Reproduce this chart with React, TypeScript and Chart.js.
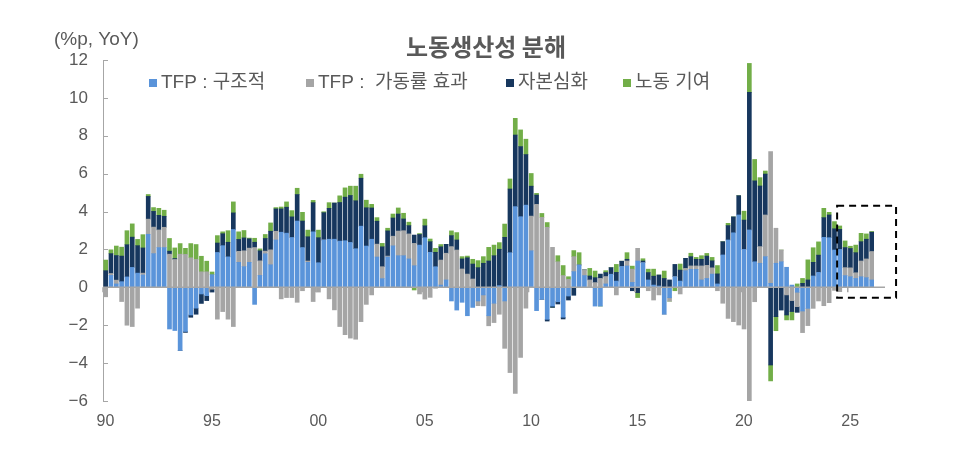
import React, { useEffect, useRef } from "react";
import { Chart, registerables } from "chart.js";

Chart.register(...registerables);

// ---------- data (quarterly, 1990Q1 .. 2026Q1, %p YoY) ----------
const START_YEAR = 1990;

const TFP_STRUCTURAL = [
  0, 0.63, 0.18, 0.3, 0.55, 1.05, 0.75, 0.65, 2.8, 1.78, 2.1, 2.1,
  -2.2, -2.28, -3.33, -2.33, -1.46, -1.1, -0.35, -0.44, 0.67, 1.84, 2.2, 1.61,
  3.05, 1.32, 1.09, 1.32, -0.9, 0.63, 1.77, 1.19, 2.5, 2.91, 2.86, 2.63,
  3.5, 2.1, 1.32, 2.93, 1.3, 2.5, 2.54, 2.54, 2.44, 2.46, 2.37, 2.04,
  3.23, 2.18, 2.54, 1.6, 0.46, 1.6, 2.19, 1.67, 1.67, 1.5, 1.14, 2.23,
  2.62, 1.85, 1.09, 0.12, 0.39, -0.72, -1.2, -0.79, -1.5, -1.06, -0.72, -0.4,
  -1.5, -0.84, 0.09, -0.72, 1.83, 4.26, 3.73, 4.34, 1.93, -1.23, -0.63, -1.69,
  -0.99, -0.76, -1.58, -0.46, 0.83, 1.18, 0.62, 0, -0.99, -0.99, 0.18, 0.69,
  0.33, 1.1, 1.13, 0.26, 1.39, 1.3, 0.39, 0.12, 0.07, -1.42, -0.55, 0.56,
  0.33, 0.88, 0.95, 0.95, 0.39, 0.47, 0.7, 0.18, 1.71, 2.5, 2.88, 3.82,
  2.0, 3.03, 1.35, 1.27, 1.62, 0.21, 1.27, 1.35, 1.06, 0.12, -0.26, -1.25,
  -1.11, 0.6, 0.79, 2.64, 2.62, 1.97, 2.0, 0.62, 0.56, 0.47, 0.56, 0.51,
  0.39,
];

const TFP_CYCLICAL = [
  -0.5, 0.1, 0.2, -0.75, -2.0, -2.07, -1.1, 0.1, 0.8, 1.4, 0.93, 1.07,
  1.75, 1.47, 1.75, 1.74, 1.56, 1.47, 0.82, 0.82, -0.1, -1.68, -1.28, -1.68,
  -2.07, 0.58, 0.84, 0.75, 2.1, 0.77, 0.14, 0.79, 0.46, -0.61, -0.54, -0.54,
  -0.79, -0.18, 0.07, -0.75, -0.25, 0, -0.61, -1.19, -2.07, -2.5, -2.68, -2.74,
  -1.81, -0.9, -0.4, 0.68, 0.63, 0.05, 0.51, 1.3, 1.32, 1.32, 1.18, -0.35,
  -0.62, -0.53, -0.05, 1.32, 1.41, 2.15, 1.97, 0.97, 0.7, 0.44, -0.25, -0.58,
  -0.53, -1.02, -1.42, -2.5, -4.5, -5.6, -3.7, -1.1, 1.83, 4.38, 3.69, 3.17,
  2.11, 1.35, 0.62, 0.42, 0.79, 0, 0.3, 0.39, 0.25, 0.47, 0.39, 0,
  -0.4, 0, 0.26, 0.7, 0.67, 0, -0.18, -0.67, -0.4, 0, -0.18, 0,
  -0.35, 0.12, 0.18, 0.18, 0.74, 0.69, 0.33, -0.18, -0.84, -1.64, -1.81, -1.99,
  -2.2, -6.12, -0.76, 0.88, 2.2, 6.95, 1.85, 0.62, -0.4, -0.7, -0.76, -1.14,
  -0.91, -1.11, -0.72, -0.97, -0.81, -0.16, -0.23, 0.42, 0.47, 0.3, 0.83, 0.99,
  1.5,
];

const CAPITAL_DEEPENING = [
  0.88, 1.05, 1.3, 1.35, 1.7, 1.6, 1.45, 1.33, 1.2, 0.83, 0.77, 0.58,
  0.16, 0.05, 0, -0.05, -0.12, -0.32, -0.5, -0.26, -0.15, 0.5, 0.63, 0.77,
  0.88, 0.63, 0.68, 0.49, 0.28, 0.53, 0.67, 0.98, 1.18, 1.23, 1.37, 1.09,
  1.4, 1.4, 1.28, 1.54, 1.32, 1.44, 1.63, 1.91, 2.04, 2.3, 2.48, 2.53,
  2.53, 2.02, 1.65, 1.21, 1.05, 1.33, 0.96, 0.9, 0.62, 0.44, 0.44, 0.56,
  0.63, 0.56, 0.76, 0.7, 0.47, 0.58, 0.53, 0.53, 0.86, 0.79, 1.04, 1.27,
  1.39, 1.67, 1.92, 2.64, 3.36, 3.78, 3.7, 2.67, 1.58, 0.49, 0, -0.09,
  -0.07, -0.12, -0.09, -0.21, -0.42, 0, 0, 0.21, 0.26, 0.23, 0.21, 0.35,
  0.46, 0.28, 0.09, -0.18, -0.28, 0.09, 0.39, 0.47, 0.58, 0.47, 0.39, 0.65,
  0.58, 0.53, 0.49, 0.35, 0.35, 0.49, 0.37, 0.53, 0.7, 0.76, 0.84, 1.02,
  1.55, 7.26, 4.27, 3.2, 2.16, -4.1, -1.55, -1.2, -1.06, -0.58, -0.3, 0.21,
  0.39, 0.72, 0.91, 1.04, 1.2, 1.12, 1.06, 1.06, 1.02, 1.06, 1.02, 1.04,
  1.02,
];

const LABOR_CONTRIBUTION = [
  0.56, 0.2, 0.5, 0.47, 0.74, 0.7, 0.33, 0.7, 0.1, 0.2, 0.37, 0.32,
  0.67, 0.56, 0.56, 0.32, 0.75, 0.79, 0.82, 0.56, 0.14, 0.39, 0.1, 0.61,
  0.58, 0.4, 0.39, 0.04, 0.21, 0.1, 0.21, 0.44, 0.07, 0.1, 0.28, 0.33,
  0.33, 0.46, 0.35, 0.12, 0.4, 0.05, 0.3, 0, 0.35, 0.49, 0.49, 0.77,
  0.21, 0.4, 0.19, 0.19, 0.18, 0.14, 0.21, 0.32, 0.3, 0.18, -0.14, 0.05,
  0.35, 0.14, 0.21, 0.12, 0, 0.25, 0.39, 0.12, 0.09, 0.25, 0.37, 0.35,
  0.72, 0.56, 0.35, 0.7, 0.53, 0.88, 0.88, 0.81, 0.67, 0.09, 0.21, 0.25,
  0, 0.32, 0.53, 0.14, 0.32, 0.65, 0, 0.4, 0.35, 0, 0.1, 0,
  0.42, 0, 0.35, 0.16, -0.26, 0.12, 0.18, 0.37, 0, 0.39, 0, -0.18,
  0.32, 0, 0.18, 0.1, 0.19, 0.14, 0.18, 0.44, 0, 0.12, 0, 0,
  0.47, 1.53, 1.13, 0.44, 0.16, -0.84, -0.74, 0, -0.26, -0.44, 0.18, 0.26,
  1.06, 0.77, 0.7, 0.49, 0.14, 0.38, 0.18, 0.35, 0.12, 0.4, 0.44, 0.28,
  0.04,
];

const SERIES_NAMES = ["TFP : 구조적", "TFP :  가동률 효과", "자본심화", "노동 기여"];
const SERIES_VALUES = [TFP_STRUCTURAL, TFP_CYCLICAL, CAPITAL_DEEPENING, LABOR_CONTRIBUTION];
const SERIES_COLORS = ["#5A94DA", "#A5A5A5", "#17375E", "#72AE48"];

const X_TICK_YEARS = [1990, 1995, 2000, 2005, 2010, 2015, 2020, 2025];
const Y_TICKS = [-6, -4, -2, 0, 2, 4, 6, 8, 10, 12];

const TITLE = "노동생산성 분해";
const UNIT = "(%p, YoY)";

const FONT = "'Liberation Sans', 'Noto Sans CJK KR', sans-serif";
const KFONT = "'Noto Sans CJK KR', 'Liberation Sans', sans-serif";
const TEXT_COLOR = "#595959";
const AXIS_COLOR = "#A6A6A6";

const overlayPlugin = {
  id: "overlay",
  afterDatasetsDraw(chart: any) {
    const { ctx, chartArea, scales } = chart;
    const x = scales.x;
    const y = scales.y;
    ctx.save();
    const y0 = y.getPixelForValue(0);
    ctx.strokeStyle = AXIS_COLOR;
    ctx.lineWidth = 1.5;
    ctx.beginPath();
    ctx.moveTo(chartArea.left, y0);
    ctx.lineTo(chartArea.right, y0);
    X_TICK_YEARS.forEach((yr) => {
      const px = x.getPixelForValue(yr);
      ctx.moveTo(px, y0);
      ctx.lineTo(px, y0 + 5);
    });
    ctx.stroke();
    ctx.lineWidth = 1;
    ctx.beginPath();
    Y_TICKS.forEach((v) => {
      const py = Math.round(y.getPixelForValue(v)) + 0.5;
      ctx.moveTo(chartArea.left, py);
      ctx.lineTo(chartArea.left + 5, py);
    });
    ctx.stroke();

    // highlighted recent period (dashed box)
    const bx0 = x.getPixelForValue(2024.5);
    const bx1 = x.getPixelForValue(2027.27);
    const by0 = y.getPixelForValue(4.3);
    const by1 = y.getPixelForValue(-0.55);
    ctx.setLineDash([7, 5]);
    ctx.lineWidth = 2;
    ctx.strokeStyle = "#000000";
    ctx.strokeRect(bx0, by0, bx1 - bx0, by1 - by0);
    ctx.restore();
  },
  afterDraw(chart: any) {
    const { ctx } = chart;
    ctx.save();
    // title
    ctx.fillStyle = TEXT_COLOR;
    ctx.font = `bold 24px ${KFONT}`;
    ctx.textAlign = "center";
    ctx.textBaseline = "middle";
    ctx.fillText(TITLE, 486, 47);
    // unit
    ctx.font = `19px ${FONT}`;
    ctx.textAlign = "left";
    ctx.fillText(UNIT, 54, 40);
    // legend
    const legendX = [149, 306, 506, 623];
    ctx.font = `19px ${FONT}`;
    SERIES_NAMES.forEach((name, i) => {
      const lx = legendX[i];
      ctx.fillStyle = SERIES_COLORS[i];
      ctx.fillRect(lx, 79, 8, 8);
      ctx.fillStyle = TEXT_COLOR;
      ctx.fillText(name, lx + 12, 83);
    });
    ctx.restore();
  },
};

export default function App() {
  const canvasRef = useRef<HTMLCanvasElement | null>(null);

  useEffect(() => {
    const canvas = canvasRef.current;
    if (!canvas) return;
    const xs = TFP_STRUCTURAL.map((_, i) => START_YEAR + (i + 0.5) / 4);
    const chart = new Chart(canvas, {
      type: "bar",
      data: {
        datasets: SERIES_VALUES.map((vals, si) => ({
          label: SERIES_NAMES[si],
          data: vals.map((v, i) => ({ x: xs[i], y: v })),
          backgroundColor: SERIES_COLORS[si],
          borderWidth: 0,
          barThickness: 4,
        })),
      },
      options: {
        responsive: false,
        animation: false,
        devicePixelRatio: 1,
        layout: { padding: { left: 0, right: 75, top: 60, bottom: 19 } },
        plugins: {
          legend: { display: false },
          title: { display: false },
          tooltip: { enabled: false },
        },
        scales: {
          x: {
            type: "linear",
            min: 1990,
            max: 2026.75,
            offset: false,
            stacked: true,
            grid: { display: false, drawTicks: false, offset: false },
            border: { display: false },
            afterBuildTicks: (s: any) => {
              s.ticks = X_TICK_YEARS.map((v) => ({ value: v }));
            },
            afterFit: (s: any) => {
              s.height = 30;
            },
            ticks: {
              autoSkip: false,
              maxRotation: 0,
              padding: 11,
              labelOffset: 2.5,
              color: TEXT_COLOR,
              font: { size: 16, family: FONT },
              callback: (v: any) => String(Number(v) % 100).padStart(2, "0"),
            },
          },
          y: {
            min: -6,
            max: 12,
            stacked: true,
            grid: { display: false, drawTicks: false },
            border: { display: true, color: AXIS_COLOR, width: 1 },
            afterFit: (s: any) => {
              s.width = 103;
            },
            ticks: {
              stepSize: 2,
              padding: 15,
              color: TEXT_COLOR,
              font: { size: 17, family: FONT },
              callback: (v: any) => (Number(v) < 0 ? "\u2212" + Math.abs(Number(v)) : String(v)),
            },
          },
        },
      },
      plugins: [overlayPlugin],
    });
    return () => chart.destroy();
  }, []);

  return (
    <div style={{ position: "fixed", left: 0, top: 0, width: 960, height: 450, background: "#ffffff" }}>
      <canvas ref={canvasRef} width={960} height={450} style={{ display: "block", width: 960, height: 450 }} />
    </div>
  );
}
